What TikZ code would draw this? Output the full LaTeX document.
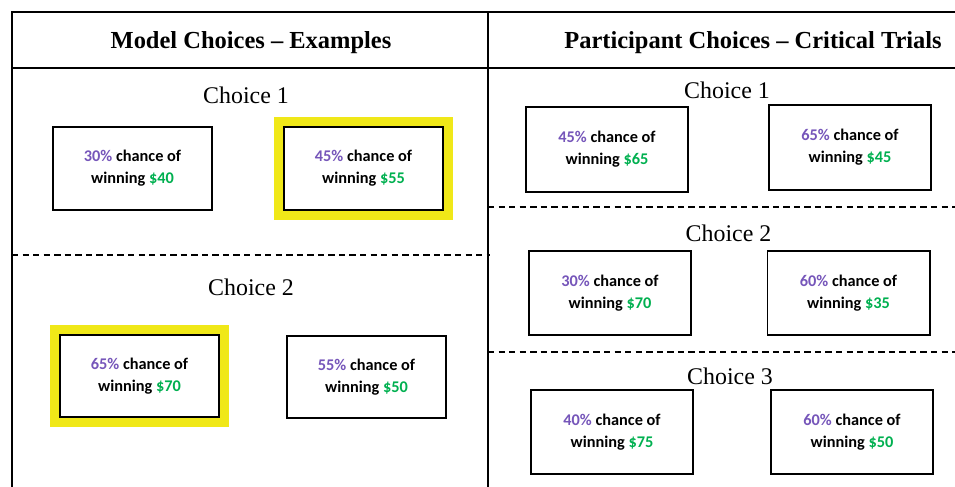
\documentclass[tikz,border=0pt]{standalone}
\usepackage{fontspec}
\setmainfont{Liberation Serif}
\newfontfamily\calfont{Carlito}
\usepackage{xcolor}
\usepackage{tikz}
\usetikzlibrary{positioning}
\definecolor{probpurple}{RGB}{118,86,186}
\definecolor{cashgreen}{RGB}{0,176,80}
\definecolor{pickyellow}{RGB}{240,232,24}
\newcommand{\gamble}[2]{\textcolor{probpurple}{#1\%} chance of\\winning \textcolor{cashgreen}{\$#2}}
\tikzset{
  optbox/.style={draw=black,line width=1.4pt,fill=white,align=center,
    minimum width=3.98cm,minimum height=2.07cm,inner sep=0pt,
    font=\calfont\bfseries\fontsize{11.6}{15.5}\selectfont},
  widebox/.style={optbox,minimum width=4.05cm,minimum height=2.12cm},
  picked/.style={preaction={draw=pickyellow,line width=14pt}},
  choicelbl/.style={font=\fontsize{17}{20}\selectfont},
  paneltitle/.style={font=\bfseries\fontsize{17.4}{20}\selectfont},
  splitline/.style={line width=0.9pt,dash pattern=on 4.5pt off 3pt}
}

\begin{document}
\begin{tikzpicture}[x=0.025cm,y=-0.025cm]
\useasboundingbox[fill=white] (0,0) rectangle (955,487);
% frame
\draw[line width=2.1pt] (12,487) -- (12,12) -- (955,12);
\draw[line width=2.1pt] (488,12) -- (488,487);
\draw[line width=1pt] (12,68) -- (955,68);
\draw[splitline] (12,255) -- (490,255);
\draw[splitline] (488,207) -- (955,207);
\draw[splitline] (488,352) -- (955,352);
% titles
\node[paneltitle] (mtitle) at (251,43) {Model Choices -- Examples};
\node[paneltitle] (ptitle) at (753,43) {Participant Choices -- Critical Trials};
% model examples
\node[choicelbl] (mc1) at (246,95) {Choice 1};
\node[optbox] (m1a) at (132.5,168.5) {\gamble{30}{40}};
\node[optbox,picked] (m1b) at (363.5,168.5) {\gamble{45}{55}};
\node[choicelbl] (mc2) at (251,287) {Choice 2};
\node[optbox,picked] (m2a) at (139.5,376) {\gamble{65}{70}};
\node[optbox] (m2b) at (366.5,377) {\gamble{55}{50}};
% critical trials
\node[choicelbl] (pc1) at (727,90) {Choice 1};
\node[widebox] (p1a) at (607,149.5) {\gamble{45}{65}};
\node[widebox] (p1b) at (850,147.5) {\gamble{65}{45}};
\node[choicelbl] (pc2) at (728.5,233) {Choice 2};
\node[widebox] (p2a) at (610,293) {\gamble{30}{70}};
\node[widebox] (p2b) at (848.5,293) {\gamble{60}{35}};
\node[choicelbl] (pc3) at (730,376) {Choice 3};
\node[widebox] (p3a) at (612,432) {\gamble{40}{75}};
\node[widebox] (p3b) at (852,432) {\gamble{60}{50}};
\end{tikzpicture}
\end{document}
